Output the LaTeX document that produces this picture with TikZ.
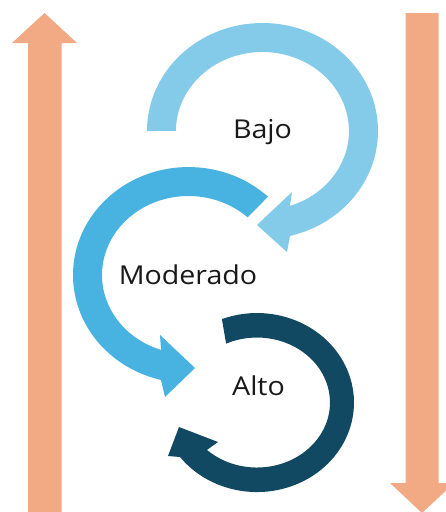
\documentclass[tikz,border=0pt]{standalone}
\usepackage{fontspec}
\setmainfont{Open Sans}
\definecolor{bajoc}{RGB}{132,203,234}
\definecolor{modc}{RGB}{72,178,224}
\definecolor{altoc}{RGB}{18,73,98}
\definecolor{orng}{RGB}{241,170,132}
\begin{document}
\begin{tikzpicture}[x=1pt,y=-1pt,
  lbl/.style={font=\fontsize{26}{30}\selectfont, text=black!90, anchor=base, inner sep=0pt}]
\useasboundingbox (0,0) rectangle (446,512);
\clip (0,0) rectangle (446,512);
\fill[white] (0,0) rectangle (446,512);
% vertical arrows
\fill[orng] (28,520) -- (28,43) -- (12,43) -- (44.5,13) -- (77,43) -- (61.5,43) -- (61.5,520) -- cycle;
\fill[orng] (405.5,13) -- (438.5,13) -- (438.5,483) -- (454,483) -- (422,513) -- (390,483) -- (405.5,483) -- cycle;
% Bajo
\fill[bajoc] (147,131) arc[start angle=180, end angle=436.2, x radius=115.5, y radius=108]
  -- (287,252) -- (257,225) -- (292,192) -- (289.9,205.9)
  arc[start angle=431.5, end angle=180, x radius=86.5, y radius=79] -- cycle;
% Moderado
\fill[modc] (268,196.7) arc[start angle=-46.5, end angle=-256.2, x radius=115.5, y radius=108]
  -- (165,397) -- (195,368) -- (160,335) -- (161.05,349.9)
  arc[start angle=-251.5, end angle=-46.9, x radius=86.5, y radius=79] -- cycle;
% Alto
\fill[altoc] (221.9,319.1) arc[start angle=-111.2, end angle=142.5, x radius=97, y radius=89.5]
  -- (168,456) -- (179,427) -- (218,442) -- (207,449.9)
  arc[start angle=133.2, end angle=-115, x radius=73, y radius=65] -- cycle;
% labels
\node[lbl] (bajo) at (262.5,138) {\scalebox{1.1}[1]{Bajo}};
\node[lbl] (moderado) at (188,284) {\scalebox{1.1}[1]{Moderado}};
\node[lbl] (alto) at (258.5,395) {\scalebox{1.1}[1]{Alto}};
\end{tikzpicture}
\end{document}
